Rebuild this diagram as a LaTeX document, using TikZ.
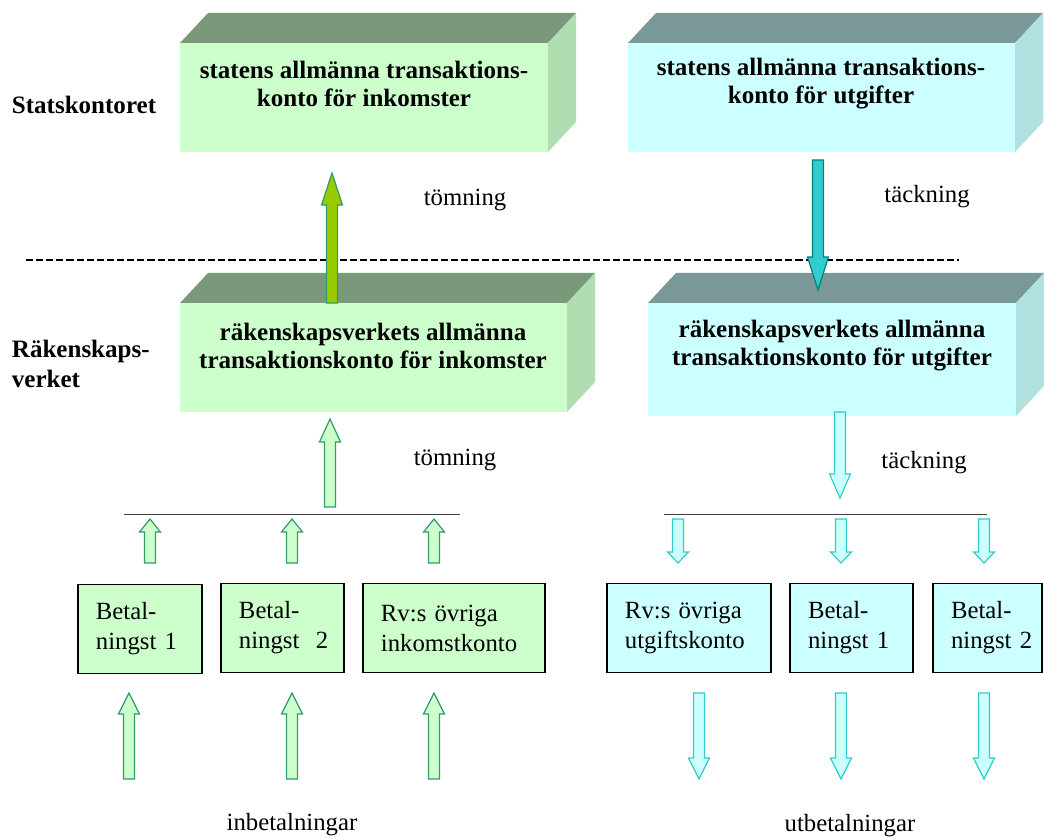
\documentclass[tikz,border=0pt]{standalone}
\usepackage{fontspec}
\setmainfont{Liberation Serif}
\usepackage{tikz}
\usetikzlibrary{positioning}

\definecolor{ingreen}{RGB}{204,255,204}
\definecolor{ingreentop}{RGB}{122,152,122}
\definecolor{ingreenside}{RGB}{176,222,176}
\definecolor{utcyan}{RGB}{204,255,255}
\definecolor{utcyantop}{RGB}{122,152,152}
\definecolor{utcyanside}{RGB}{176,224,224}
\definecolor{arrgreen}{RGB}{51,153,102}
\definecolor{arrlime}{RGB}{153,204,0}
\definecolor{arrteal}{RGB}{51,204,204}
\definecolor{arrdark}{RGB}{0,128,128}

% box with top and side face: x1 y1 x2 y2 front top side
\newcommand{\cuboid}[7]{%
  \fill[#6] (#1,#2) -- ++(28,-30) -- (#3+28,#2-30) -- (#3,#2) -- cycle;
  \fill[#7] (#3,#2) -- (#3+28,#2-30) -- (#3+28,#4-30) -- (#3,#4) -- cycle;
  \fill[#5] (#1,#2) rectangle (#3,#4);
}
% block arrow: x, tail y, head base y, tip y
\newcommand{\blkarrow}[5][]{%
  \draw[#1] (#2-5.5,#3) -- (#2-5.5,#4) -- (#2-10.5,#4) -- (#2,#5)
    -- (#2+10.5,#4) -- (#2+5.5,#4) -- (#2+5.5,#3) -- cycle;
}

\tikzset{
  every node/.style={font=\fontsize{17.6}{20}\selectfont},
  boxtext/.style={align=center, font=\fontsize{17.8}{20}\selectfont\bfseries},
  acct/.style={draw=black, line width=1pt, align=left, inner xsep=0.45cm,
    text width=#1, minimum height=2.22cm, font=\fontsize{17.6}{21.3}\selectfont},
  lightin/.style={fill=ingreen, draw=arrgreen, line width=0.85pt},
  lightut/.style={fill=utcyan, draw=arrteal, line width=0.85pt},
  bigin/.style={fill=arrlime, draw=arrgreen, line width=0.85pt},
  bigut/.style={fill=arrteal, draw=arrdark, line width=0.85pt},
  bar/.style={draw=black!75, line width=0.6pt}
}

\begin{document}
\begin{tikzpicture}[x=0.025cm, y=-0.025cm]
  \useasboundingbox (0,0) rectangle (1044,839);

  % the four accounts
  \cuboid{180}{43}{548}{152}{ingreen}{ingreentop}{ingreenside}
  \cuboid{628}{43}{1015}{152}{utcyan}{utcyantop}{utcyanside}
  \cuboid{180}{303}{567}{412}{ingreen}{ingreentop}{ingreenside}
  \cuboid{648}{303}{1016}{416}{utcyan}{utcyantop}{utcyanside}

  \node[boxtext] (statin) at (364,84) {statens allmänna transaktions-\\konto för inkomster};
  \node[boxtext] (statut) at (821,84) {statens allmänna transaktions-\\konto för utgifter};
  \node[boxtext] (rvin) at (373,346) {räkenskapsverkets allmänna\\transaktionskonto för inkomster};
  \node[boxtext] (rvut) at (832,346) {räkenskapsverkets allmänna\\transaktionskonto för utgifter};

  % levels
  \node[anchor=west, font=\fontsize{17.8}{20}\selectfont\bfseries] (stk) at (7,105) {Statskontoret};
  \node[anchor=west, align=left, font=\fontsize{17.8}{21.3}\selectfont\bfseries] (rvk) at (7,364) {Räkenskaps-\\verket};
  \coordinate (dl) at (26,260);
  \coordinate (dr) at (959,260);
  \draw[line width=1.1pt, dash pattern=on 5pt off 2.2pt] (dl) -- (dr);

  % flows between the levels
  \blkarrow[bigin]{332}{303}{205}{173}
  \blkarrow[bigut]{818}{160}{257}{290}
  \node (tom1) at (465,200) {tömning};
  \node (tack1) at (927,197) {täckning};

  \blkarrow[lightin]{330}{507}{442}{419}
  \blkarrow[lightut]{840}{412}{474}{498}
  \node (tom2) at (455,460) {tömning};
  \node (tack2) at (924,463) {täckning};

  \coordinate (hl1) at (124,514);
  \coordinate (hl2) at (460,514);
  \coordinate (hr1) at (664,514);
  \coordinate (hr2) at (987,514);
  \draw[bar] (hl1) -- (hl2);
  \draw[bar] (hr1) -- (hr2);

  \foreach \x in {150,292,434} {\blkarrow[lightin]{\x}{563}{532}{519}}
  \foreach \x in {678,841,984} {\blkarrow[lightut]{\x}{519}{552}{563}}

  % account boxes
  \node[acct=2.2cm, fill=ingreen] (bet1) at (140,629) {Betal-\\ningst 1};
  \node[acct=2.175cm, fill=ingreen] (bet2) at (282.5,628) {Betal-\\ningst~ 2};
  \node[acct=3.65cm, fill=ingreen] (ovrin) at (454,628) {Rv:s övriga\\inkomstkonto};
  \node[acct=3.2cm, fill=utcyan] (ovrut) at (689,628) {Rv:s övriga\\utgiftskonto};
  \node[acct=2.175cm, fill=utcyan] (betu1) at (851.5,628) {Betal-\\ningst 1};
  \node[acct=1.825cm, fill=utcyan] (betu2) at (987.5,628) {Betal-\\ningst~2};

  \foreach \x in {129,292,434} {\blkarrow[lightin]{\x}{779}{714}{693}}
  \foreach \x in {699,841,984} {\blkarrow[lightut]{\x}{693}{758}{779}}

  \node (inb) at (292,825) {inbetalningar};
  \node (utb) at (850,826) {utbetalningar};
\end{tikzpicture}
\end{document}
